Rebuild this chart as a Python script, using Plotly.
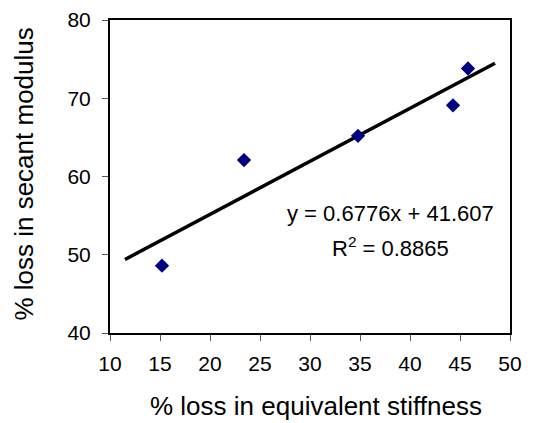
import plotly.graph_objects as go

# Measured data: % loss in equivalent stiffness vs % loss in secant modulus
stiffness_loss = [15.2, 23.4, 34.8, 44.3, 45.8]
secant_loss = [48.6, 62.1, 65.2, 69.1, 73.8]

# Linear trend fitted to the data
slope = 0.6776
intercept = 41.607
r_squared = 0.8865
trend_x = [11.5, 48.5]
trend_y = [slope * x + intercept for x in trend_x]

x_ticks = [10, 15, 20, 25, 30, 35, 40, 45, 50]
y_ticks = [40, 50, 60, 70, 80]

x_title = "% loss in equivalent stiffness"
y_title = "% loss in secant modulus"

FONT = "Liberation Sans, Arial, sans-serif"

fig = go.Figure()
fig.add_trace(go.Scatter(
    x=trend_x, y=trend_y, mode="lines",
    line=dict(color="black", width=3.5),
    hoverinfo="skip", showlegend=False,
))
fig.add_trace(go.Scatter(
    x=stiffness_loss, y=secant_loss, mode="markers",
    marker=dict(symbol="diamond", size=11, color="#000080"),
    showlegend=False,
))

# Regression equation and R² as two separate lines
fig.add_annotation(
    x=38.05, y=55.3, xref="x", yref="y",
    text=f"y = {slope}x + {intercept}",
    showarrow=False, align="center",
    font=dict(family=FONT, size=22, color="black"),
)
fig.add_annotation(
    x=38.05, y=51.0, xref="x", yref="y",
    text=f"R<sup>2</sup> = {r_squared}",
    showarrow=False, align="center",
    font=dict(family=FONT, size=22, color="black"),
)

# Axis titles placed relative to the plot area
fig.add_annotation(
    x=0.515, y=0, xref="paper", yref="paper",
    xanchor="center", yanchor="top", yshift=-56,
    text=x_title, showarrow=False,
    font=dict(family=FONT, size=26, color="black"),
)
fig.add_annotation(
    x=0, y=0.506, xref="paper", yref="paper",
    xanchor="center", yanchor="middle", xshift=-86,
    text=y_title, textangle=-90, showarrow=False,
    font=dict(family=FONT, size=26, color="black"),
)

axis_common = dict(
    showline=True, linecolor="black", linewidth=2, mirror=True,
    ticks="outside", ticklen=6, tickwidth=1, tickcolor="#555555",
    showgrid=False, zeroline=False, automargin=False,
    tickfont=dict(family=FONT, size=21, color="black"),
)

fig.update_xaxes(range=[10, 50], tickvals=x_ticks, ticklabelstandoff=5, **axis_common)
fig.update_yaxes(range=[40, 80], tickvals=y_ticks, ticklabelstandoff=7, **axis_common)

fig.update_layout(
    width=533, height=423,
    margin=dict(l=110, r=23, t=20, b=90),
    plot_bgcolor="white", paper_bgcolor="white",
)

fig.write_html("out.html")
